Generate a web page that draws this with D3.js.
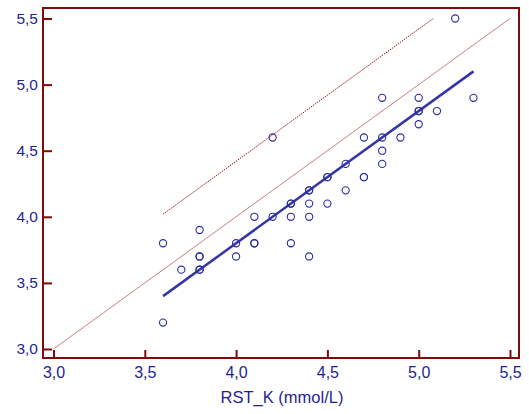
<!DOCTYPE html>
<html>
<head>
<meta charset="utf-8">
<script src="https://cdn.jsdelivr.net/npm/d3@7"></script>
<style>
  body { margin: 0; background: #fff; }
  svg text { font-family: "Liberation Sans", Arial, sans-serif; }
</style>
</head>
<body>
<svg id="chart" width="529" height="414"></svg>
<script>
// ===== Scatter of paired potassium measurements =====

// Observations (x = RST_K, y = second method)
var xVals = [3.6, 3.6, 3.7, 3.8, 3.8, 3.8, 3.8, 3.8, 4.0, 4.0, 4.1, 4.1, 4.1,
             4.2, 4.2, 4.3, 4.3, 4.3, 4.3, 4.4, 4.4, 4.4, 4.4, 4.4, 4.5, 4.5, 4.5,
             4.6, 4.6, 4.7, 4.7, 4.7, 4.8, 4.8, 4.8, 4.8, 4.9, 5.0, 5.0, 5.0, 5.0,
             5.1, 5.2, 5.3];
var yVals = [3.8, 3.2, 3.6, 3.9, 3.7, 3.7, 3.6, 3.6, 3.8, 3.7, 4.0, 3.8, 3.8,
             4.0, 4.6, 4.1, 4.1, 4.0, 3.8, 4.2, 4.2, 4.1, 4.0, 3.7, 4.3, 4.3, 4.1,
             4.4, 4.2, 4.6, 4.3, 4.3, 4.9, 4.6, 4.5, 4.4, 4.6, 4.9, 4.8, 4.8, 4.7,
             4.8, 5.5, 4.9];

// Reference lines (endpoints in data units)
var identityLine = [[3.0, 3.0], [5.5, 5.5]];
var regressionLine = [[3.6, 3.4], [5.3, 5.1]];
var upperLine = [[3.6, 4.02], [5.08, 5.5]];

var tickValues = [3.0, 3.5, 4.0, 4.5, 5.0, 5.5];
var xTitle = "RST_K (mmol/L)";

var FRAME = "#7f0a0a";
var TEXT = "#1f1f8f";
var POINT = "#2b2b9c";

var svg = d3.select("#chart");

// Plot frame
var frame = { left: 43, top: 8, right: 519, bottom: 358 };

var x = d3.scaleLinear().domain([3.0, 5.5]).range([53.5, 510]);
var y = d3.scaleLinear().domain([3.0, 5.5]).range([349, 18.5]);

var fmt = function(v) { return d3.format(".1f")(v).replace(".", ","); };

// Lines
var line = d3.line().x(function(d) { return x(d[0]); }).y(function(d) { return y(d[1]); });

svg.append("path").attr("d", line(identityLine))
  .attr("fill", "none").attr("stroke", "#c98080").attr("stroke-width", 1);

svg.append("path").attr("d", line(upperLine))
  .attr("fill", "none").attr("stroke", "#a31515").attr("stroke-width", 1)
  .attr("stroke-dasharray", "1.5,1");

svg.append("path").attr("d", line(regressionLine))
  .attr("fill", "none").attr("stroke", "#3535a5").attr("stroke-width", 2.5);

// Points
svg.selectAll(".pt")
  .data(xVals.map(function(v, i) { return [v, yVals[i]]; }))
  .join("circle")
  .attr("class", "pt")
  .attr("cx", function(d) { return x(d[0]); })
  .attr("cy", function(d) { return y(d[1]); })
  .attr("r", 3.6)
  .attr("fill", "none")
  .attr("stroke", POINT)
  .attr("stroke-width", 1.1);

// Frame
svg.append("rect")
  .attr("x", frame.left).attr("y", frame.top)
  .attr("width", frame.right - frame.left).attr("height", frame.bottom - frame.top)
  .attr("fill", "none").attr("stroke", FRAME).attr("stroke-width", 2);

// X axis ticks (pointing inward)
var xAxis = svg.append("g").attr("transform", "translate(0," + frame.bottom + ")")
  .call(d3.axisBottom(x).tickValues(tickValues).tickSizeInner(-8).tickSizeOuter(0)
    .tickPadding(9).tickFormat(fmt));
xAxis.select(".domain").remove();
xAxis.selectAll(".tick line").attr("stroke", FRAME).attr("stroke-width", 2);
xAxis.selectAll(".tick text").attr("fill", TEXT).attr("font-size", 16);

// Y axis ticks (pointing inward)
var yAxis = svg.append("g").attr("transform", "translate(" + frame.left + ",0)")
  .call(d3.axisLeft(y).tickValues(tickValues).tickSizeInner(-9).tickSizeOuter(0)
    .tickPadding(5).tickFormat(fmt));
yAxis.select(".domain").remove();
yAxis.selectAll(".tick line").attr("stroke", FRAME).attr("stroke-width", 2);
yAxis.selectAll(".tick text").attr("fill", TEXT).attr("font-size", 15.5);

// Axis title
svg.append("text")
  .attr("x", 282).attr("y", 403)
  .attr("text-anchor", "middle")
  .attr("fill", TEXT).attr("font-size", 16.5)
  .text(xTitle);
</script>
</body>
</html>
